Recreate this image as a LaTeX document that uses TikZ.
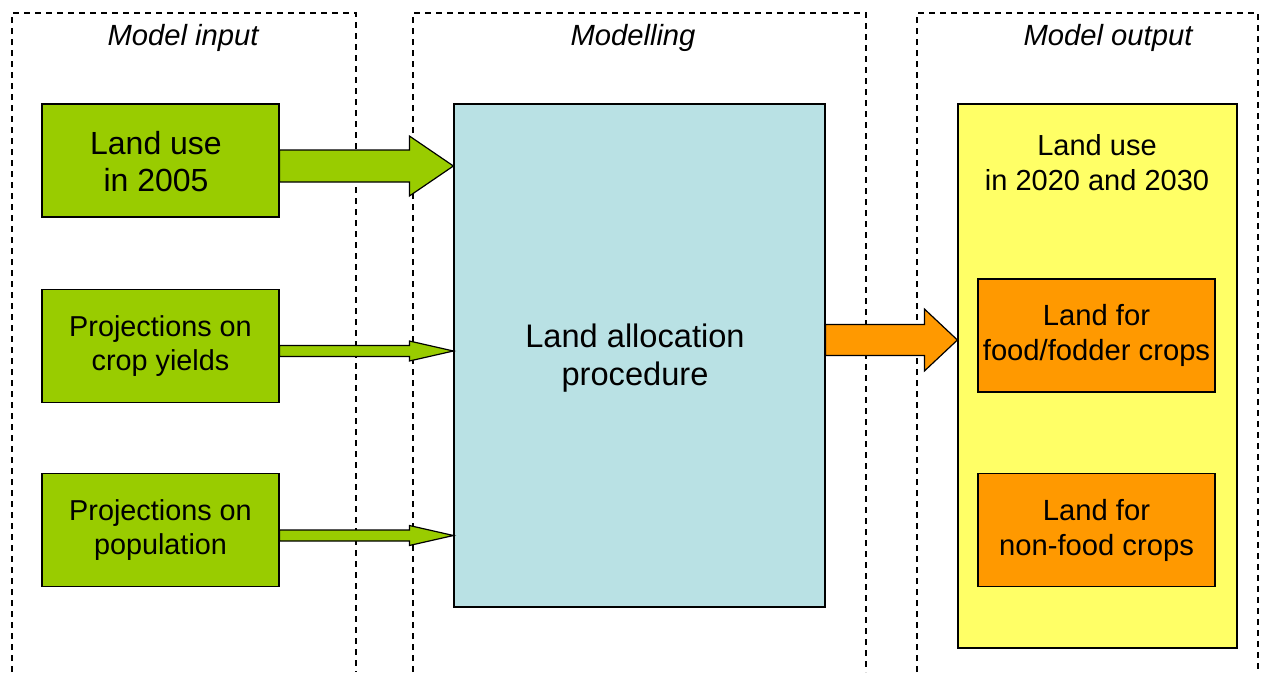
\documentclass[tikz,border=0pt]{standalone}
\usepackage{fontspec}
\setmainfont{Liberation Sans}
\usetikzlibrary{calc}

\definecolor{inputgreen}{HTML}{99CC00}
\definecolor{modelblue}{HTML}{B9E1E4}
\definecolor{outyellow}{HTML}{FFFF66}
\definecolor{outorange}{HTML}{FF9900}

% fat outlined arrow from the east side of #1 to the west side of #2
% #3 = vertical offset, #4 = half shaft, #5 = half head, #6 = head length, #7 = fill
\newcommand{\fatarrow}[7]{%
  \draw[fill=#7, line width=0.6pt, line join=miter]
    ($(#1.east)+(0,#3-#4)$) -- ($(#2.west |- #1.east)+(-#6,#3-#4)$)
    -- ($(#2.west |- #1.east)+(-#6,#3-#5)$)
    -- ($(#2.west |- #1.east)+(0,#3)$)
    -- ($(#2.west |- #1.east)+(-#6,#3+#5)$)
    -- ($(#2.west |- #1.east)+(-#6,#3+#4)$)
    -- ($(#1.east)+(0,#3+#4)$) -- cycle;
}

\begin{document}
\begin{tikzpicture}[
    x=0.5pt, y=-0.5pt,
    frame/.style={draw, dashed, dash pattern=on 3pt off 2.5pt, line width=0.7pt},
    title/.style={font=\itshape\fontsize{14.6}{17}\selectfont},
    inbox/.style={draw, fill=inputgreen, line width=0.6pt, align=center,
        minimum width=118.5pt, minimum height=56.5pt, inner sep=0pt},
    outbox/.style={draw, fill=outorange, line width=0.6pt, align=center,
        minimum width=118.5pt, minimum height=56.5pt, inner sep=0pt,
        font=\fontsize{14.6}{17.5}\selectfont}
]
  \useasboundingbox (0,0) rectangle (1263,675);

  % column frames, open at the bottom
  \draw[frame] (12,672) -- (12,13) -- (356,13) -- (356,672);
  \draw[frame] (413,672) -- (413,13) -- (866,13) -- (866,672);
  \draw[frame] (917,672) -- (917,13) -- (1258,13) -- (1258,672);

  \node[title] (tin) at (183,38) {Model input};
  \node[title] (tmod) at (633,38) {Modelling};
  \node[title] (tout) at (1108,38) {Model output};

  % inputs
  \node[inbox, font=\fontsize{16}{18.5}\selectfont] (landuse) at (160.5,160.5) {};
  \node[align=center, font=\fontsize{16}{18.5}\selectfont] (landusetext) at (156,162) {Land use\\in 2005};
  \node[inbox, font=\fontsize{14.4}{17}\selectfont] (yields) at (160.5,346) {Projections on\\crop yields};
  \node[inbox, font=\fontsize{14.4}{17}\selectfont] (popul) at (160.5,530) {Projections on\\population};

  % modelling
  \node[draw, fill=modelblue, line width=0.6pt, minimum width=185.5pt,
        minimum height=251.5pt, inner sep=0pt] (alloc) at (639.5,355.5) {};
  \node[align=center, font=\fontsize{16.3}{19}\selectfont] (alloctext) at (635,358)
      {Land allocation\\procedure};

  % output
  \node[draw, fill=outyellow, line width=0.6pt, minimum width=139.5pt,
        minimum height=272pt, inner sep=0pt] (result) at (1097.5,376) {};
  \node[align=center, font=\fontsize{14.5}{17.5}\selectfont] (resulttext) at (1097,163)
      {Land use\\in 2020 and 2030};
  \node[outbox] (food) at (1096.5,335.5) {Land for\\food/fodder crops};
  \node[outbox] (nonfood) at (1096.5,530) {Land for\\non-food crops};

  % arrows
  \fatarrow{landuse}{alloc}{5.5}{16}{30}{44}{inputgreen}
  \fatarrow{yields}{alloc}{5}{5.5}{10}{44}{inputgreen}
  \fatarrow{popul}{alloc}{5.5}{5.5}{10}{44}{inputgreen}
  \fatarrow{alloc}{result}{-15.5}{15.5}{31}{33}{outorange}
\end{tikzpicture}
\end{document}
